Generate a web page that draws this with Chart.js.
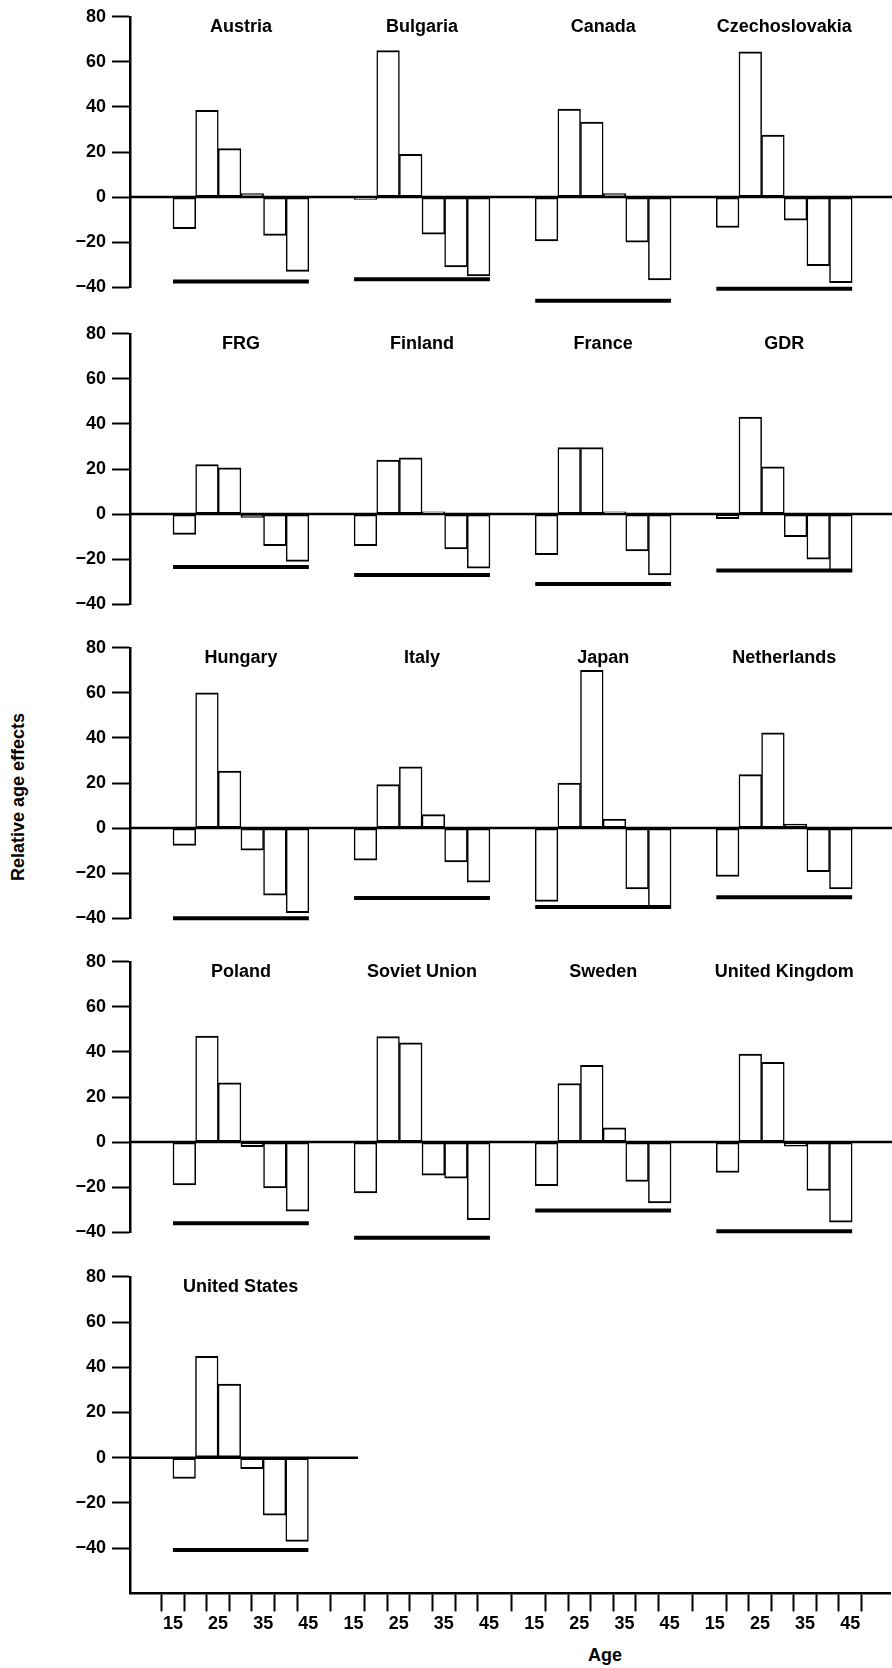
<!DOCTYPE html>
<html>
<head>
<meta charset="utf-8">
<title>Relative age effects</title>
<script src="https://cdn.jsdelivr.net/npm/chart.js@4.4.1/dist/chart.umd.min.js"></script>
<style>
  body { margin: 0; background: #fff; }
  #page { position: relative; width: 892px; height: 1668px; overflow: hidden; background: #fff;
          font-family: "Liberation Sans", Arial, sans-serif; font-weight: bold; color: #000; }
  .row { position: absolute; left: 0; width: 892px; }
  #yTitle { position: absolute; left: 18px; top: 797px; font-size: 18px; white-space: nowrap;
            transform: translate(-50%, -50%) rotate(-90deg); }
  #xTitle { position: absolute; left: 605px; top: 1655px; font-size: 18px;
            transform: translate(-50%, -50%); }
</style>
</head>
<body>
<div id="page">
  <div id="yTitle">Relative age effects</div>
  <div id="xTitle">Age</div>
</div>
<script>
// panels, in reading order
const countries = [
  'Austria', 'Bulgaria', 'Canada', 'Czechoslovakia',
  'FRG', 'Finland', 'France', 'GDR',
  'Hungary', 'Italy', 'Japan', 'Netherlands',
  'Poland', 'Soviet Union', 'Sweden', 'United Kingdom',
  'United States'
];

// five-year age groups (start of each group)
const ageGroups = [15, 20, 25, 30, 35, 40];
const ageTicks = [15, 20, 25, 30, 35, 40, 45];
const yTicks = [80, 60, 40, 20, 0, -20, -40];

// relative age effects, one array per country (same order as countries)
const ageEffects = [
  [-14, 38.5, 21.5, 1.5, -17, -33],
  [-1, 65, 19, -16.5, -31, -35],
  [-19.5, 39, 33.3, 1.5, -20, -36.8],
  [-13.5, 64.5, 27.5, -10.3, -30.5, -38],
  [-9, 22, 20.5, -1.5, -14, -21],
  [-14, 24, 25, 1, -15.5, -24],
  [-18, 29.5, 29.5, 1, -16.3, -27],
  [-2, 43, 21, -10, -20, -25.7],
  [-7.7, 60, 25.3, -9.8, -29.8, -37.6],
  [-14.3, 19.3, 27.2, 6, -15, -24],
  [-32.5, 20, 70, 4, -27, -35.5],
  [-21.5, 23.7, 42.3, 1.8, -19.3, -27],
  [-19, 47, 26.3, -2, -20.4, -30.7],
  [-22.6, 46.8, 44, -14.7, -16, -34.4],
  [-19.4, 26, 34, 6.3, -17.5, -27],
  [-13.5, 39, 35.4, -1.8, -21.5, -35.6],
  [-9.2, 44.8, 32.6, -4.8, -25.4, -37]
];

// level of the thick horizontal line under each panel
const refLevels = [
  -37.5, -36.5, -46, -40.7,
  -23.5, -27, -31, -25,
  -40, -31, -35, -30.7,
  -36, -42.5, -30.4, -39.6,
  -40.8
];

const rows = [[0, 1, 2, 3], [4, 5, 6, 7], [8, 9, 10, 11], [12, 13, 14, 15], [16]];

// layout
const rowTops = [16, 333, 647, 961, 1276];   // pixel of the 80 line in each row
const PX_PER_UNIT = 2.267;
const PAD = 16;
const X_MIN = 0.5;
const X_MAX = 168.8;
const PANEL = 40;

// position of an age inside panel k on the shared x axis
const ageX = (age, k) => age - 5 + PANEL * k;

Chart.defaults.font.family = '"Liberation Sans", Arial, sans-serif';
Chart.defaults.font.size = 18;
Chart.defaults.font.weight = 'bold';
Chart.defaults.color = '#000';

const panelTitles = {
  id: 'panelTitles',
  afterDatasetsDraw(chart, args, opts) {
    const { ctx, scales: { x, y } } = chart;
    ctx.save();
    ctx.font = 'bold 18px "Liberation Sans", Arial, sans-serif';
    ctx.fillStyle = '#000';
    ctx.textAlign = 'center';
    ctx.textBaseline = 'middle';
    opts.names.forEach((name, k) => {
      ctx.fillText(name, x.getPixelForValue(ageX(30, k)), y.getPixelForValue(75.5));
    });
    ctx.restore();
  }
};

const page = document.getElementById('page');

rows.forEach((idx, r) => {
  const last = r === rows.length - 1;
  const yMin = last ? -60 : -40;
  const plotH = (80 - yMin) * PX_PER_UNIT;
  const xAxisH = 60;

  const div = document.createElement('div');
  div.className = 'row';
  div.style.top = (rowTops[r] - PAD) + 'px';
  div.style.height = (PAD + plotH + (last ? xAxisH : PAD)) + 'px';
  const canvas = document.createElement('canvas');
  div.appendChild(canvas);
  page.appendChild(div);

  const bars = idx.flatMap((c, k) =>
    ageGroups.map((a, i) => ({ x: ageX(a + 2.5, k), y: ageEffects[c][i] })));
  const refs = idx.flatMap((c, k) => [
    { x: ageX(15, k), y: refLevels[c] },
    { x: ageX(45, k), y: refLevels[c] },
    { x: ageX(50, k), y: null }
  ]);
  const zero = [{ x: X_MIN, y: 0 }, { x: last ? ageX(56, 0) : X_MAX, y: 0 }];

  new Chart(canvas, {
    data: {
      datasets: [
        {
          type: 'bar',
          data: bars,
          backgroundColor: '#fff',
          borderColor: '#000',
          borderWidth: { top: 2, bottom: 2, left: 1.5, right: 1.5 },
          borderSkipped: false,
          barPercentage: 1,
          categoryPercentage: 1,
          order: 2
        },
        {
          type: 'line',
          data: refs,
          borderColor: '#000',
          borderWidth: 4,
          pointRadius: 0,
          spanGaps: false,
          clip: false,
          order: 1
        },
        {
          type: 'line',
          data: zero,
          borderColor: '#000',
          borderWidth: 2.5,
          pointRadius: 0,
          order: 0
        }
      ]
    },
    options: {
      responsive: true,
      maintainAspectRatio: false,
      animation: false,
      devicePixelRatio: 1,
      layout: { padding: { top: PAD, bottom: last ? 0 : PAD, left: 0, right: 0 } },
      plugins: {
        legend: { display: false },
        tooltip: { enabled: false },
        panelTitles: { names: idx.map(c => countries[c]) }
      },
      scales: {
        x: {
          type: 'linear',
          offset: false,
          min: X_MIN,
          max: X_MAX,
          display: last,
          afterBuildTicks: axis => {
            axis.ticks = [0, 1, 2, 3].flatMap(k => ageTicks.map(a => ({ value: ageX(a, k) })));
          },
          afterFit: axis => { if (last) axis.height = xAxisH; },
          ticks: {
            autoSkip: false,
            maxRotation: 0,
            padding: 2,
            callback: (v, i) => {
              const a = ageTicks[i % ageTicks.length];
              return a % 10 === 5 ? String(a) : '';
            }
          },
          grid: { drawOnChartArea: false, drawTicks: true, tickLength: 18, tickWidth: 2, tickColor: '#000' },
          border: { display: true, color: '#000', width: 2.5 }
        },
        y: {
          min: yMin,
          max: 80,
          afterBuildTicks: axis => { axis.ticks = yTicks.map(v => ({ value: v })); },
          afterFit: axis => { axis.width = 130; },
          ticks: {
            padding: 6,
            callback: v => (v < 0 ? '\u2212' + Math.abs(v) : String(v))
          },
          grid: { drawOnChartArea: false, drawTicks: true, tickLength: 18, tickWidth: 2, tickColor: '#000' },
          border: { display: true, color: '#000', width: 2.5 }
        }
      }
    },
    plugins: [panelTitles]
  });
});
</script>
</body>
</html>
